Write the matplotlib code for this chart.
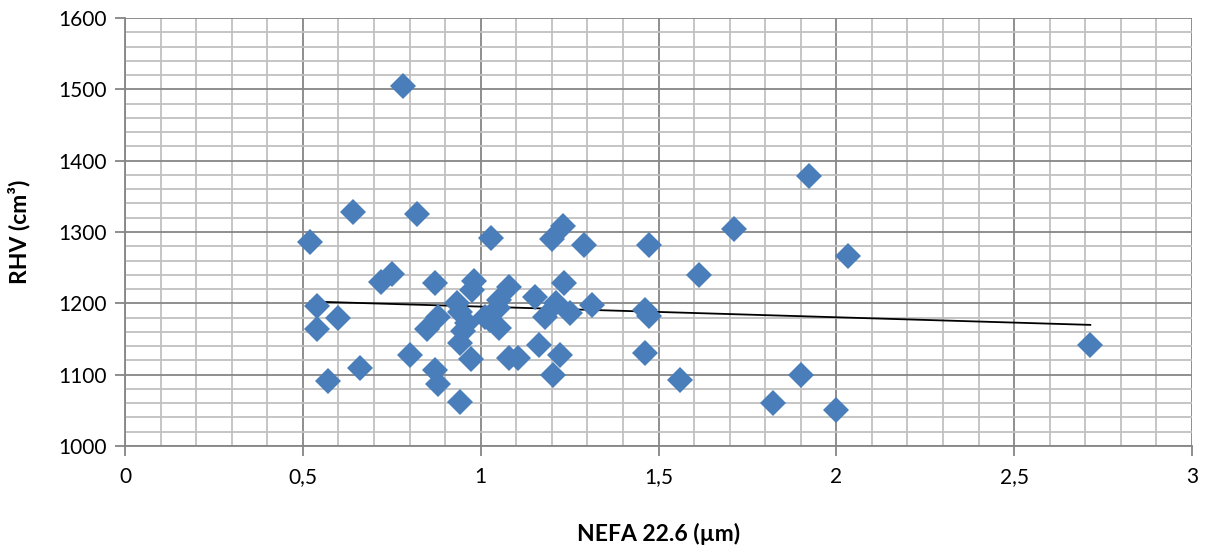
import numpy as np
import matplotlib
matplotlib.use("Agg")
import matplotlib.pyplot as plt
from matplotlib.ticker import MultipleLocator, FuncFormatter

# ======================= DATA =======================

nefa = [0.52, 0.539, 0.539, 0.572, 0.600, 0.642, 0.661, 0.719, 0.750, 0.781,
        0.802, 0.820, 0.850, 0.872, 0.872, 0.881, 0.881, 0.933, 0.941, 0.941,
        0.941, 0.950, 0.961, 0.972, 0.975, 0.982, 1.013, 1.027, 1.030, 1.050,
        1.052, 1.052, 1.081, 1.081, 1.104, 1.152, 1.163, 1.181, 1.200, 1.203,
        1.212, 1.222, 1.231, 1.233, 1.252, 1.291, 1.313, 1.463, 1.463, 1.472,
        1.472, 1.561, 1.613, 1.713, 1.822, 1.902, 1.923, 2.000, 2.033, 2.714]
rhv = [1286, 1196, 1164, 1091, 1179, 1328, 1110, 1230, 1241, 1505,
       1127, 1325, 1164, 1229, 1107, 1181, 1087, 1200, 1188, 1144,
       1062, 1161, 1172, 1122, 1218, 1231, 1181, 1176, 1291, 1194,
       1204, 1165, 1223, 1124, 1124, 1209, 1141, 1181, 1290, 1100,
       1201, 1128, 1309, 1229, 1187, 1282, 1197, 1190, 1131, 1282,
       1182, 1093, 1240, 1304, 1060, 1099, 1379, 1051, 1266, 1141]

X_LABEL = "NEFA 22.6 (µm)"
Y_LABEL = "RHV (cm³)"

# ======================= PLOT =======================

plt.rcParams["font.family"] = ["Lato", "DejaVu Sans"]

fig = plt.figure(figsize=(12.13, 5.52), dpi=100)
ax = fig.add_axes([125 / 1213, 1 - 446 / 552, (1192 - 125) / 1213, (446 - 18) / 552])

x = np.array(nefa)
y = np.array(rhv)

# linear trendline over the data range
slope, intercept = np.polyfit(x, y, 1)
xt = np.array([x.min(), x.max()])
ax.plot(xt, slope * xt + intercept, color="black", lw=1.3, zorder=3)

ax.plot(x, y, linestyle="none", marker="D", ms=13.5, color="#4a7ebb",
        markeredgewidth=0, zorder=4)

ax.set_xlim(0, 3)
ax.set_ylim(1000, 1600)
ax.xaxis.set_major_locator(MultipleLocator(0.5))
ax.xaxis.set_minor_locator(MultipleLocator(0.1))
ax.yaxis.set_major_locator(MultipleLocator(100))
ax.yaxis.set_minor_locator(MultipleLocator(20))
ax.xaxis.set_major_formatter(FuncFormatter(lambda v, p: ("%g" % v).replace(".", ",")))

ax.grid(which="major", color="#868686", lw=1.3)
ax.grid(which="minor", color="#c0c0c0", lw=1.3)
ax.set_axisbelow(True)

for s in ["top", "right"]:
    ax.spines[s].set_visible(False)
for s in ["left", "bottom"]:
    ax.spines[s].set_color("#868686")
    ax.spines[s].set_linewidth(1.3)

ax.tick_params(which="major", length=7, width=1.3, color="#868686",
               labelsize=15, pad=6)
ax.tick_params(axis="x", which="major", pad=8)
ax.tick_params(which="minor", length=0)

ax.set_xlabel(X_LABEL, fontsize=16.5, fontweight="bold", labelpad=26)
ax.set_ylabel(Y_LABEL, fontsize=16.5, fontweight="bold", labelpad=20)

fig.savefig("out.png", dpi=100)
